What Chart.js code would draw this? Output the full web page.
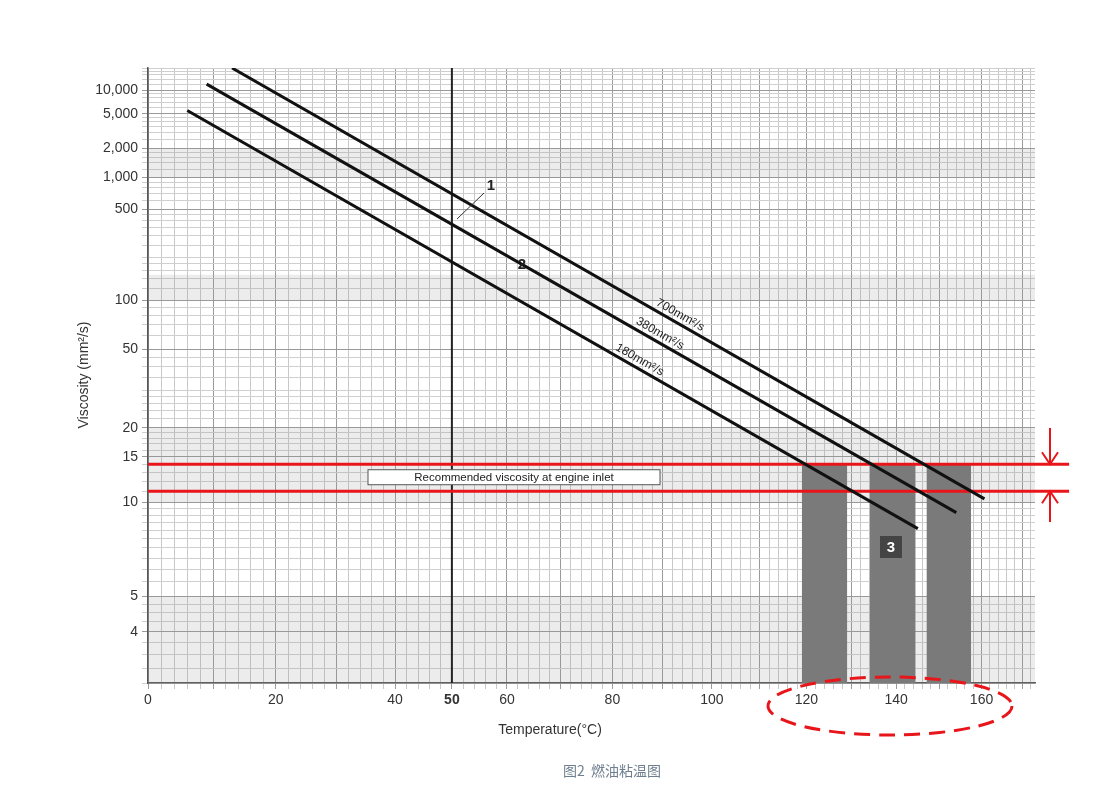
<!DOCTYPE html>
<html>
<head>
<meta charset="utf-8">
<script src="https://cdn.jsdelivr.net/npm/chart.js@4/dist/chart.umd.min.js"></script>
<style>
  html, body { margin: 0; padding: 0; background: #fff; }
  #wrap { width: 1108px; height: 808px; }
</style>
</head>
<body>
<div id="wrap"><canvas id="viscChart"></canvas></div>
<script>
// ASTM style chart: x = log(T in K), y = log(log(v + 0.7))
const tx = T => Math.log10(T + 273.15);
const ty = v => Math.log10(Math.log10(v + 0.7));

// data
const temps700 = [13, 160.7];
const visc700 = [20000, 10.3];
const temps380 = [9, 154];
const visc380 = [12000, 9.2];
const temps180 = [6, 145];
const visc180 = [5500, 8.1];
const recommended = [14, 11];          // viscosity window at engine inlet
const bandStart = [119, 134, 147];     // temperature bands (grey)
const bandEnd = [129, 144.5, 157.5];

// axis ticks
const xLabels = [0, 20, 40, 50, 60, 80, 100, 120, 140, 160];
const xGrid = [];
for (let t = 0; t <= 172; t += 2) xGrid.push(t);
const yLabels = [4, 5, 10, 15, 20, 50, 100, 500, 1000, 2000, 5000, 10000];
const yGrid = [3, 3.25, 3.5, 3.75, 4, 4.25, 4.5, 4.75, 5, 5.5, 6, 6.5, 7, 7.5, 8, 8.5, 9, 9.5, 10, 11, 12, 13, 14, 15, 16, 17, 18, 19, 20,
  22, 24, 26, 28, 30, 35, 40, 45, 50, 60, 70, 80, 90, 100, 120, 140, 160, 180, 200, 250, 300, 350, 400, 450, 500,
  600, 700, 800, 900, 1000, 1200, 1400, 1600, 1800, 2000, 2500, 3000, 3500, 4000, 4500, 5000, 6000, 7000, 8000, 9000,
  10000, 12000, 14000, 16000, 18000, 20000];

const pts = (ts, vs) => ts.map((t, i) => ({ x: tx(t), y: ty(vs[i]) }));
const yMin = ty(3), yMax = ty(20000);

const datasets = [];
bandStart.forEach((s, i) => {
  datasets.push({
    data: [{ x: tx(s), y: ty(recommended[0]) }, { x: tx(bandEnd[i]), y: ty(recommended[0]) }],
    showLine: true, borderWidth: 0, pointRadius: 0,
    backgroundColor: '#7a7a7a', fill: { value: yMin }, order: 5
  });
});
recommended.forEach(v => {
  datasets.push({
    data: [{ x: tx(0), y: ty(v) }, { x: tx(181.5), y: ty(v) }],
    showLine: true, borderColor: '#e8161b', borderWidth: 3, pointRadius: 0, clip: false, order: 2
  });
});
[[temps700, visc700], [temps380, visc380], [temps180, visc180]].forEach(([t, v]) => {
  datasets.push({
    data: pts(t, v), showLine: true, borderColor: '#111', borderWidth: 3, pointRadius: 0, order: 1
  });
});

const lineSets = [[temps700, visc700, '700mm²/s', 88], [temps380, visc380, '380mm²/s', 84], [temps180, visc180, '180mm²/s', 80]];

const bands = [[3, 5], [10, 20], [100, 150], [1000, 2000]];

const decor = {
  id: 'decor',
  beforeDatasetsDraw(chart) {
    const { ctx, chartArea: a, scales: { x, y } } = chart;
    ctx.save();
    ctx.fillStyle = 'rgba(150,150,150,0.18)';
    bands.forEach(([lo, hi]) => {
      const y1 = y.getPixelForValue(ty(hi)), y2 = y.getPixelForValue(ty(lo));
      ctx.fillRect(a.left, y1, a.right - a.left, y2 - y1);
    });
    // solid line at 50 °C
    const x50 = x.getPixelForValue(tx(50));
    ctx.strokeStyle = '#222';
    ctx.lineWidth = 2;
    ctx.beginPath(); ctx.moveTo(x50, a.top); ctx.lineTo(x50, a.bottom); ctx.stroke();
    ctx.restore();
  },
  afterDatasetsDraw(chart) {
    const { ctx, chartArea: a, scales: { x, y } } = chart;
    ctx.save();
    // line labels
    ctx.fillStyle = '#222';
    ctx.font = '12px "Liberation Sans", Arial, sans-serif';
    lineSets.forEach(([t, v, txt, tl]) => {
      const x1 = x.getPixelForValue(tx(t[0])), y1 = y.getPixelForValue(ty(v[0]));
      const x2 = x.getPixelForValue(tx(t[1])), y2 = y.getPixelForValue(ty(v[1]));
      const px = x.getPixelForValue(tx(tl));
      const py = y1 + (y2 - y1) * (px - x1) / (x2 - x1);
      ctx.save();
      ctx.translate(px, py);
      ctx.rotate(Math.atan2(y2 - y1, x2 - x1));
      ctx.textAlign = 'left';
      ctx.fillText(txt, 0, -5);
      ctx.restore();
    });
    // number markers
    ctx.font = 'bold 15px "Liberation Sans", Arial, sans-serif';
    ctx.textAlign = 'center';
    ctx.textBaseline = 'middle';
    ctx.fillText('1', 491, 186);
    ctx.fillText('2', 522, 265);
    ctx.strokeStyle = '#333';
    ctx.lineWidth = 1;
    ctx.beginPath(); ctx.moveTo(484, 193); ctx.lineTo(457, 219); ctx.stroke();
    ctx.fillStyle = '#444';
    ctx.fillRect(880, 536, 22, 22);
    ctx.fillStyle = '#fff';
    ctx.fillText('3', 891, 548);
    // recommended box
    const ym = (y.getPixelForValue(ty(recommended[0])) + y.getPixelForValue(ty(recommended[1]))) / 2;
    ctx.fillStyle = '#fff';
    ctx.fillRect(368, ym - 8, 292, 15);
    ctx.strokeStyle = '#555';
    ctx.strokeRect(368, ym - 8, 292, 15);
    ctx.fillStyle = '#222';
    ctx.font = '11.5px "Liberation Sans", Arial, sans-serif';
    ctx.fillText('Recommended viscosity at engine inlet', 514, ym);
    // arrows on right
    const ra = y.getPixelForValue(ty(recommended[0])), rb = y.getPixelForValue(ty(recommended[1]));
    ctx.strokeStyle = '#e8161b';
    ctx.lineWidth = 2;
    ctx.beginPath();
    ctx.moveTo(1050, 428); ctx.lineTo(1050, ra);
    ctx.moveTo(1042, ra - 12); ctx.lineTo(1050, ra); ctx.lineTo(1058, ra - 12);
    ctx.moveTo(1050, 522); ctx.lineTo(1050, rb);
    ctx.moveTo(1042, rb + 12); ctx.lineTo(1050, rb); ctx.lineTo(1058, rb + 12);
    ctx.stroke();
    // dashed ellipse
    ctx.setLineDash([16, 9]);
    ctx.lineWidth = 3;
    ctx.beginPath();
    ctx.ellipse(890, 706, 122, 29, 0, 0, Math.PI * 2);
    ctx.stroke();
    ctx.setLineDash([]);
    // axis titles and caption
    ctx.fillStyle = '#333';
    ctx.font = '14px "Liberation Sans", Arial, sans-serif';
    ctx.fillText('Temperature(°C)', 550, 730);
    ctx.save();
    ctx.translate(84, 375);
    ctx.rotate(-Math.PI / 2);
    ctx.fillText('Viscosity (mm²/s)', 0, 0);
    ctx.restore();
    ctx.fillStyle = '#6f7f8f';
    ctx.font = '14px "Noto Sans CJK SC", sans-serif';
    ctx.fillText('图2  燃油粘温图', 612, 771);
    ctx.restore();
  }
};

new Chart(document.getElementById('viscChart'), {
  type: 'scatter',
  data: { datasets },
  plugins: [decor],
  options: {
    responsive: true,
    maintainAspectRatio: false,
    animation: false,
    layout: { padding: { top: 68, right: 73, left: 0, bottom: 0 } },
    plugins: { legend: { display: false }, tooltip: { enabled: false } },
    scales: {
      x: {
        type: 'linear', min: tx(0), max: tx(173),
        afterBuildTicks: s => { s.ticks = xGrid.map(t => ({ value: tx(t), t })); },
        afterFit: s => { s.height = 125; },
        ticks: {
          autoSkip: false, maxRotation: 0, color: '#333',
          font: c => ({ size: 14, weight: c.tick && c.tick.t === 50 ? 'bold' : 'normal', family: '"Liberation Sans", Arial' }),
          callback: function (val, i, ticks) {
            const t = ticks[i].t;
            return xLabels.includes(t) ? String(t) : '';
          }
        },
        grid: {
          color: c => (c.tick.t % 10 === 0 ? '#9a9a9a' : '#c8c8c8'),
          tickLength: 6
        },
        border: { color: '#555', width: 1.5 }
      },
      y: {
        type: 'linear', min: yMin, max: yMax,
        afterBuildTicks: s => { s.ticks = yGrid.map(v => ({ value: ty(v), v })); },
        afterFit: s => { s.width = 148; },
        ticks: {
          autoSkip: false, color: '#333', padding: 4,
          font: { size: 14, family: '"Liberation Sans", Arial' },
          callback: function (val, i, ticks) {
            const v = ticks[i].v;
            return yLabels.includes(v) ? v.toLocaleString('en-US') : '';
          }
        },
        grid: {
          color: c => yLabels.includes(c.tick.v) ? '#9a9a9a' : '#cfcfcf',
          tickLength: 6
        },
        border: { color: '#555', width: 1.5 }
      }
    }
  }
});
</script>
</body>
</html>
